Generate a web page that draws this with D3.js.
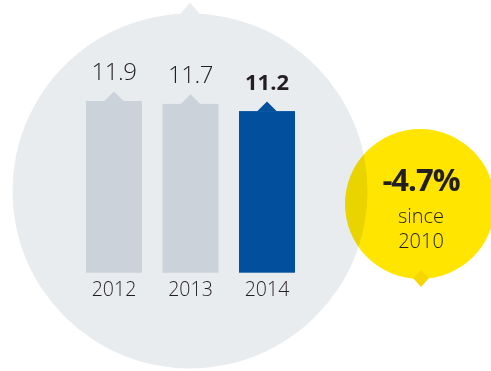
<!DOCTYPE html>
<html>
<head>
<meta charset="utf-8">
<script src="https://cdn.jsdelivr.net/npm/d3@7/dist/d3.min.js"></script>
<style>
  html, body { margin: 0; padding: 0; background: #ffffff; }
  svg { display: block; }
  text { font-family: "Open Sans", "Noto Sans", sans-serif; fill: #231f20; }
</style>
</head>
<body>
<svg id="chart" width="491" height="371"></svg>
<script>
// Annual values, one bar per year; the latest year is highlighted
const years = ["2012", "2013", "2014"];
const values = [11.9, 11.7, 11.2];
const highlightYear = "2014";

// Callout bubble text
const changeLabel = "-4.7%";
const changeNote = ["since", "2010"];

const width = 491, height = 371;
const svg = d3.select("#chart");

const colors = {
  backdrop: "#e9ecef",
  bar: "#cbd2d9",
  highlight: "#02509d",
  bubble: "#ffe500"
};

// Backdrop disc with a small pointer on top
const disc = { cx: 190, cy: 191, r: 177.5 };
svg.append("circle")
  .attr("cx", disc.cx).attr("cy", disc.cy).attr("r", disc.r)
  .attr("fill", colors.backdrop);
svg.append("path")
  .attr("d", d3.line()([
    [disc.cx - 11, disc.cy - disc.r + 2],
    [disc.cx, disc.cy - disc.r - 11],
    [disc.cx + 11, disc.cy - disc.r + 2]
  ]) + "Z")
  .attr("fill", colors.backdrop);

// Scales
const x = d3.scaleBand()
  .domain(years)
  .range([86, 295])
  .paddingInner(0.268)
  .paddingOuter(0);

const y = d3.scaleLinear()
  .domain([0, 12])
  .range([272.7, 272.7 - 12 * 14.43]);

const data = years.map((yr, i) => ({ year: yr, value: values[i] }));
const fillFor = d => d.year === highlightYear ? colors.highlight : colors.bar;

// Bars
const bars = svg.append("g").attr("class", "bars");
bars.selectAll("rect")
  .data(data)
  .join("rect")
  .attr("x", d => x(d.year))
  .attr("y", d => y(d.value))
  .attr("width", x.bandwidth())
  .attr("height", d => y(0) - y(d.value))
  .attr("fill", fillFor);

// Small notch on top of each bar
const notchHalf = 10, notchHeight = 9.5;
bars.selectAll("path.notch")
  .data(data)
  .join("path")
  .attr("class", "notch")
  .attr("d", d => {
    const cx = x(d.year) + x.bandwidth() / 2;
    const top = y(d.value);
    return d3.line()([[cx - notchHalf, top + 0.5], [cx, top - notchHeight], [cx + notchHalf, top + 0.5]]) + "Z";
  })
  .attr("fill", fillFor);

// Value labels
svg.append("g").selectAll("text")
  .data(data)
  .join("text")
  .attr("x", d => x(d.year) + x.bandwidth() / 2)
  .attr("y", d => y(d.value) - 21)
  .attr("text-anchor", "middle")
  .attr("font-size", d => d.year === highlightYear ? 22 : 24)
  .attr("font-weight", d => d.year === highlightYear ? 700 : 300)
  .attr("letter-spacing", d => d.year === highlightYear ? 0 : -0.5)
  .text(d => d3.format(".1f")(d.value));

// Year axis (labels only)
const xAxis = svg.append("g")
  .attr("transform", `translate(0, ${y(0)})`)
  .call(d3.axisBottom(x).tickSize(0).tickPadding(9));
xAxis.select(".domain").remove();
xAxis.selectAll("text")
  .attr("font-family", "'Open Sans', 'Noto Sans', sans-serif")
  .attr("font-size", 19.5)
  .attr("font-weight", 300)
  .attr("fill", "#231f20")
  .attr("dy", "0.71em");

// Callout bubble, blended over the backdrop disc
const bubble = { cx: 420, cy: 204, r: 75 };
const callout = svg.append("g");
callout.append("circle")
  .attr("cx", bubble.cx).attr("cy", bubble.cy).attr("r", bubble.r)
  .attr("fill", colors.bubble)
  .style("mix-blend-mode", "multiply");
callout.append("path")
  .attr("d", d3.line()([
    [bubble.cx + 1, bubble.cy + bubble.r - 9],
    [bubble.cx + 9, bubble.cy + bubble.r - 1],
    [bubble.cx + 1, bubble.cy + bubble.r + 8],
    [bubble.cx - 7, bubble.cy + bubble.r - 1]
  ]) + "Z")
  .attr("fill", "#f7d600");

callout.append("text")
  .attr("x", bubble.cx + 1).attr("y", 191)
  .attr("text-anchor", "middle")
  .attr("font-size", 31)
  .attr("font-weight", 700)
  .attr("letter-spacing", -1)
  .text(changeLabel);

// Two-line note set as a single text block
const note = callout.append("text")
  .attr("class", "note")
  .attr("x", bubble.cx + 1)
  .attr("y", 223)
  .attr("text-anchor", "middle")
  .attr("font-size", 20)
  .attr("font-weight", 300);
note.selectAll("tspan")
  .data(changeNote)
  .join("tspan")
  .attr("x", bubble.cx + 1)
  .attr("dy", (d, i) => i === 0 ? 0 : 24.5)
  .text(d => d);
</script>
</body>
</html>
